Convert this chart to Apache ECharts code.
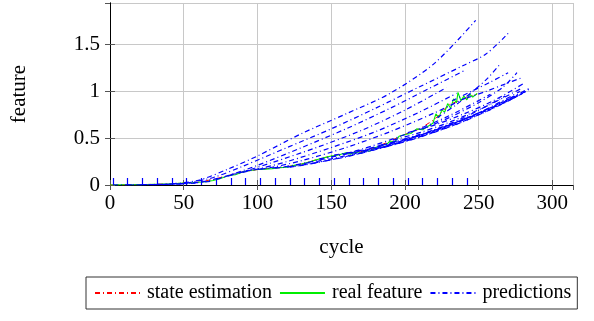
<!DOCTYPE html>
<html><head><meta charset="utf-8">
<script src="https://cdn.jsdelivr.net/npm/echarts@6/dist/echarts.min.js"></script>
<style>html,body{margin:0;padding:0;background:#fff}#c{width:594px;height:321px}</style>
</head><body><div id="c"></div>
<script>
const xTicks = [0, 50, 100, 150, 200, 250, 300];
const yTicks = [0, 0.5, 1, 1.5];
const realFeature = [[0,0],[5,0.001],[10,0.002],[15,0.002],[20,0.004],[25,0.005],[30,0.007],[35,0.009],[40,0.012],[45,0.016],[50,0.02],[55,0.024],[60,0.03],[65,0.035],[70,0.048],[75,0.07],[80,0.1],[85,0.11],[90,0.14],[95,0.155],[100,0.165],[105,0.17],[110,0.175],[115,0.185],[120,0.19],[125,0.21],[130,0.225],[135,0.245],[140,0.27],[145,0.29],[150,0.31],[155,0.32],[160,0.345],[163,0.33],[166,0.35],[170,0.34],[173,0.37],[176,0.36],[180,0.4],[184,0.42],[188,0.44],[190,0.47],[193,0.46],[196,0.52],[200,0.54],[204,0.55],[208,0.6],[212,0.59],[216,0.63],[219,0.66],[221,0.76],[223,0.72],[225,0.8],[227,0.78],[229,0.87],[231,0.82],[233,0.92],[235,0.88],[236,0.99],[238,0.9],[240,0.95],[242,0.91],[244,0.97],[246,0.94],[249,0.98]];
const stateEstimation = [[0,0],[10,0.002],[20,0.004],[30,0.007],[40,0.012],[50,0.02],[60,0.03],[70,0.06],[80,0.1],[90,0.14],[100,0.165],[110,0.18],[120,0.195],[130,0.225],[140,0.27],[150,0.31],[160,0.34],[170,0.355],[180,0.4],[190,0.47],[200,0.54],[210,0.6],[220,0.7],[230,0.86],[240,0.92],[249,0.97]];
const predictionStarts = [2,12,22,32,42,52,62,72,82,92,102,112,122,132,142,152,162,172,182,192,202,212,222,232,242];
const pred02 = [[2,0],[20,0.002],[40,0.006]];
const pred12 = [[12,0.001],[30,0.004],[50,0.01]];
const pred22 = [[22,0.003],[40,0.008],[60,0.02]];
const pred32 = [[32,0.006],[50,0.015],[70,0.04]];
const pred42 = [[42,0.012],[60,0.05],[80,0.17],[100,0.31],[130,0.55],[160,0.76],[190,0.98],[220,1.3],[248,1.76]];
const pred52 = [[52,0.02],[70,0.08],[90,0.2],[120,0.4],[150,0.6],[180,0.82],[210,1.05],[240,1.28],[255,1.4],[270,1.62]];
const pred62 = [[62,0.03],[80,0.1],[100,0.21],[130,0.4],[160,0.6],[190,0.82],[215,1.02],[240,1.22]];
const pred72 = [[72,0.06],[90,0.14],[110,0.24],[140,0.4],[170,0.58],[200,0.8],[228,1.04]];
const pred82 = [[82,0.11],[100,0.17],[120,0.25],[150,0.4],[180,0.57],[210,0.78],[235,0.98]];
const pred92 = [[92,0.15],[110,0.19],[130,0.26],[160,0.4],[190,0.57],[220,0.77],[245,0.96]];
const pred102 = [[102,0.17],[120,0.2],[140,0.26],[170,0.38],[200,0.54],[230,0.74],[258,0.97]];
const pred112 = [[112,0.18],[130,0.21],[150,0.27],[180,0.38],[210,0.53],[240,0.72],[268,0.95]];
const pred122 = [[122,0.19],[140,0.24],[160,0.3],[190,0.42],[220,0.57],[250,0.77],[278,1.0]];
const pred132 = [[132,0.23],[150,0.28],[170,0.35],[200,0.48],[230,0.64],[260,0.84],[284,1.03]];
const pred142 = [[142,0.28],[160,0.33],[180,0.4],[210,0.53],[240,0.7],[270,0.9],[282,1.0]];
const pred152 = [[152,0.32],[170,0.37],[190,0.45],[220,0.59],[250,0.77],[276,0.96]];
const pred162 = [[162,0.34],[180,0.39],[200,0.47],[230,0.62],[260,0.82],[280,0.98]];
const pred172 = [[172,0.36],[190,0.42],[210,0.51],[240,0.68],[270,0.9],[284,1.02]];
const pred182 = [[182,0.42],[200,0.49],[220,0.58],[250,0.76],[275,0.95]];
const pred192 = [[192,0.48],[210,0.56],[230,0.67],[255,0.84],[280,1.04]];
const pred202 = [[202,0.56],[220,0.64],[240,0.76],[260,0.9],[280,1.08]];
const pred212 = [[212,0.6],[230,0.72],[250,0.88],[266,1.04],[276,1.2]];
const pred222 = [[222,0.72],[235,0.86],[246,1.0],[256,1.14],[265,1.3]];
const pred232 = [[232,0.9],[245,1.0],[258,1.1],[270,1.2]];
const pred242 = [[242,0.93],[255,1.0],[268,1.08],[280,1.15]];
const predictions = [pred02,pred12,pred22,pred32,pred42,pred52,pred62,pred72,pred82,pred92,pred102,pred112,pred122,pred132,pred142,pred152,pred162,pred172,pred182,pred192,pred202,pred212,pred222,pred232,pred242];

const FONT = 'Liberation Serif';
const dashDot = [5, 3, 1, 3];
const markerHeight = 0.075;
const chart = echarts.init(document.getElementById('c'), null, {renderer: 'canvas'});
const predSeries = predictions.map(p => ({
  name: 'predictions', type: 'line', data: p, symbol: 'none', smooth: 0.3,
  lineStyle: {color: '#0000ff', width: 1.2, type: dashDot}, itemStyle: {color: '#0000ff'}, z: 4
}));
const axisCommon = {
  axisLine: {show: true, lineStyle: {color: '#000', width: 1}},
  axisTick: {show: true, inside: true, length: 5, lineStyle: {color: '#555'}},
};
chart.setOption({
  animation: false,
  grid: {left: 110, right: 21, top: 3, bottom: 136, containLabel: false},
  legend: {
    data: ['state estimation', 'real feature', 'predictions'],
    left: 86, top: 277, orient: 'horizontal',
    padding: [6, 6, 6, 8], itemGap: 7, itemWidth: 45, itemHeight: 14,
    borderColor: '#333', borderWidth: 1, backgroundColor: '#fff',
    itemStyle: {opacity: 0},
    textStyle: {fontFamily: FONT, fontSize: 20, color: '#000', padding: [0, 0, 0, 2]},
    selectedMode: false
  },
  xAxis: [{
    type: 'value', min: 0, max: 314, interval: 50, position: 'bottom',
    name: 'cycle', nameLocation: 'middle', nameGap: 52,
    nameTextStyle: {fontFamily: FONT, fontSize: 21, color: '#000'},
    axisLabel: {fontFamily: FONT, fontSize: 21, color: '#000', margin: 8, showMaxLabel: false,
      formatter: v => xTicks.includes(v) ? String(v) : ''},
    splitLine: {show: true, lineStyle: {color: '#c8c8c8', width: 1}},
    ...axisCommon
  }, {
    type: 'value', min: 0, max: 314, interval: 50, position: 'top',
    axisLabel: {show: false}, splitLine: {show: false}, ...axisCommon
  }],
  yAxis: [{
    type: 'value', min: 0, max: 1.945, interval: 0.5, position: 'left',
    name: 'feature', nameLocation: 'middle', nameGap: 80, nameRotate: 90,
    nameTextStyle: {fontFamily: FONT, fontSize: 21, color: '#000'},
    axisLabel: {fontFamily: FONT, fontSize: 21, color: '#000', margin: 10, showMaxLabel: false,
      formatter: v => yTicks.includes(v) ? String(v) : ''},
    splitLine: {show: true, lineStyle: {color: '#c8c8c8', width: 1}},
    ...axisCommon
  }, {
    type: 'value', min: 0, max: 1.945, interval: 0.5, position: 'right',
    axisLabel: {show: false}, splitLine: {show: false}, ...axisCommon
  }],
  series: [
    {name: 'state estimation', type: 'line', data: stateEstimation, symbol: 'none',
     lineStyle: {color: '#ff0000', width: 1, type: dashDot}, itemStyle: {color: '#ff0000'}, z: 2},
    {name: 'real feature', type: 'line', data: realFeature, symbol: 'none',
     lineStyle: {color: '#00ee00', width: 1.1}, itemStyle: {color: '#00ee00'}, z: 3},
    ...predSeries,
    {name: 'markers', type: 'lines', coordinateSystem: 'cartesian2d', polyline: false,
     data: predictionStarts.map(s => ({coords: [[s, 0], [s, markerHeight]]})),
     lineStyle: {color: '#0000ff', width: 1.2, opacity: 1}, z: 5}
  ]
});
</script></body></html>
